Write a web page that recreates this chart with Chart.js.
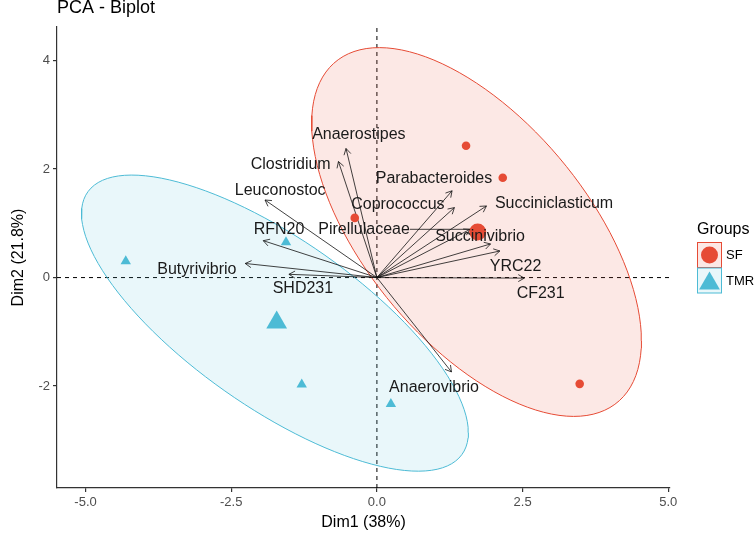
<!DOCTYPE html>
<html>
<head>
<meta charset="utf-8">
<script src="https://cdn.jsdelivr.net/npm/chart.js@4.4.1/dist/chart.umd.min.js"></script>
<style>
html, body { margin: 0; padding: 0; background: #fff; }
#caja { width: 754px; height: 541px; }
</style>
</head>
<body>
<div id="caja"><canvas id="miGrafica" width="754" height="541"></canvas></div>
<script>
// =============================
// DATOS
// =============================
const grupos = ["SF", "TMR"];
const coloresGrupo = ["#E64B35", "#4DBBD5"];
const rellenoGrupo = ["rgba(230,75,53,0.13)", "rgba(77,187,213,0.12)"];

// individuos
const sfX = [1.53, 2.16, -0.38, 3.48];
const sfY = [2.43, 1.84, 1.10, -1.96];
const tmrX = [-4.31, -1.56, -1.29, 0.24];
const tmrY = [0.30, 0.65, -1.97, -2.33];

// centros de grupo
const mediaX = [1.73, -1.72];
const mediaY = [0.84, -0.83];

// elipses: centro, semiancho en x, semialto en y, correlacion
const elipseCx = [1.71, -1.75];
const elipseCy = [0.84, -0.84];
const elipseRx = [2.83, 3.32];
const elipseRy = [3.40, 2.73];
const elipseR = [-0.59, -0.74];

// variables (flechas)
const variables = ["Anaerostipes", "Clostridium", "Leuconostoc", "RFN20", "Pirellulaceae",
    "Butyrivibrio", "SHD231", "Coprococcus", "Parabacteroides", "Succiniclasticum",
    "Succinivibrio", "YRC22", "CF231", "Anaerovibrio"];
const flechaX = [-0.53, -0.66, -1.92, -1.95, 1.60, -2.26, -1.51, 1.33, 1.29, 1.88, 1.95, 2.11, 2.53, 1.28];
const flechaY = [2.38, 2.14, 1.43, 0.68, 0.89, 0.26, 0.06, 1.29, 1.60, 1.32, 0.62, 0.49, -0.01, -1.74];
// posicion de las etiquetas
const etiquetaX = [-0.31, -1.48, -1.66, -1.68, -0.22, -3.09, -1.27, 0.36, 0.98, 3.04, 1.77, 2.38, 2.81, 0.98];
const etiquetaY = [2.63, 2.08, 1.61, 0.89, 0.89, 0.14, -0.21, 1.34, 1.82, 1.37, 0.75, 0.21, -0.29, -2.02];

// ejes
const limitesX = [-5.49, 5.03];
const limitesY = [-3.88, 4.62];
const ticksX = [-5, -2.5, 0, 2.5, 5];
const etiquetasTicksX = ["-5.0", "-2.5", "0.0", "2.5", "5.0"];
const ticksY = [-2, 0, 2, 4];
const etiquetasTicksY = ["-2", "0", "2", "4"];

const FUENTE = "'Liberation Sans', Arial, sans-serif";

function puntosElipse(i) {
    let pts = [];
    let s = Math.sqrt(1 - elipseR[i] * elipseR[i]);
    for (let k = 0; k <= 120; k++) {
        let t = 2 * Math.PI * k / 120;
        pts.push({
            x: elipseCx[i] + elipseRx[i] * Math.cos(t),
            y: elipseCy[i] + elipseRy[i] * (elipseR[i] * Math.cos(t) + s * Math.sin(t))
        });
    }
    return pts;
}

function zip(xs, ys) {
    return xs.map((x, i) => ({ x: x, y: ys[i] }));
}

// =============================
// DATASETS
// =============================
let datasets = [];

// lineas discontinuas en 0
datasets.push({
    data: [{ x: limitesX[0], y: 0 }, { x: limitesX[1], y: 0 }],
    showLine: true, borderColor: "#000", borderWidth: 1, borderDash: [4, 4],
    pointRadius: 0, order: 60
});
datasets.push({
    data: [{ x: 0, y: limitesY[0] }, { x: 0, y: limitesY[1] }],
    showLine: true, borderColor: "#000", borderWidth: 1, borderDash: [4, 4],
    pointRadius: 0, order: 60
});

// elipses
grupos.forEach(function (g, i) {
    datasets.push({
        data: puntosElipse(i),
        showLine: true, fill: "shape",
        borderColor: coloresGrupo[i], borderWidth: 1,
        backgroundColor: rellenoGrupo[i],
        pointRadius: 0, tension: 0, order: 50
    });
});

// flechas
variables.forEach(function (v, i) {
    datasets.push({
        data: [{ x: 0, y: 0 }, { x: flechaX[i], y: flechaY[i] }],
        showLine: true, borderColor: "#111", borderWidth: 0.8,
        pointRadius: 0, order: 40, esFlecha: true
    });
});

// individuos
datasets.push({
    data: zip(sfX, sfY), pointStyle: "circle", pointRadius: 4.3,
    backgroundColor: coloresGrupo[0], borderWidth: 0, pointBorderWidth: 0, order: 30
});
datasets.push({
    data: zip(tmrX, tmrY), pointStyle: "triangle", pointRadius: 6,
    backgroundColor: coloresGrupo[1], borderWidth: 0, pointBorderWidth: 0, order: 30
});

// centros
datasets.push({
    data: [{ x: mediaX[0], y: mediaY[0] }], pointStyle: "circle", pointRadius: 8.5,
    backgroundColor: coloresGrupo[0], borderWidth: 0, pointBorderWidth: 0, order: 20
});
datasets.push({
    data: [{ x: mediaX[1], y: mediaY[1] }], pointStyle: "triangle", pointRadius: 12,
    backgroundColor: coloresGrupo[1], borderWidth: 0, pointBorderWidth: 0, order: 20
});

// =============================
// PLUGIN DE DIBUJO
// =============================
const extras = {
    id: "extras",
    afterDatasetDraw(chart, args) {
        const ds = chart.data.datasets[args.index];
        if (!ds.esFlecha) return;
        const ctx = chart.ctx;
        const p0 = args.meta.data[0], p1 = args.meta.data[1];
        const ang = Math.atan2(p1.y - p0.y, p1.x - p0.x);
        const largo = 7, abre = Math.PI / 6;
        ctx.save();
        ctx.strokeStyle = "#111";
        ctx.lineWidth = 0.8;
        ctx.beginPath();
        ctx.moveTo(p1.x - largo * Math.cos(ang - abre), p1.y - largo * Math.sin(ang - abre));
        ctx.lineTo(p1.x, p1.y);
        ctx.lineTo(p1.x - largo * Math.cos(ang + abre), p1.y - largo * Math.sin(ang + abre));
        ctx.stroke();
        ctx.restore();
    },
    afterDatasetsDraw(chart) {
        const ctx = chart.ctx;
        const sx = chart.scales.x, sy = chart.scales.y;
        ctx.save();
        ctx.font = "16px " + FUENTE;
        ctx.textAlign = "center";
        ctx.textBaseline = "middle";
        variables.forEach(function (v, i) {
            const lx = sx.getPixelForValue(etiquetaX[i]);
            const ly = sy.getPixelForValue(etiquetaY[i]);
            const tx = sx.getPixelForValue(flechaX[i]);
            const ty = sy.getPixelForValue(flechaY[i]);
            const w = ctx.measureText(v).width;
            const izq = lx - w / 2, der = lx + w / 2, arr = ly - 7, aba = ly + 7;
            const nx = Math.min(Math.max(tx, izq), der);
            const ny = Math.min(Math.max(ty, arr), aba);
            if (Math.hypot(tx - nx, ty - ny) > 20) {
                ctx.strokeStyle = "#111";
                ctx.lineWidth = 0.8;
                ctx.beginPath();
                ctx.moveTo(nx, ny);
                ctx.lineTo(tx, ty);
                ctx.stroke();
            }
            ctx.fillStyle = "#1a1a1a";
            ctx.fillText(v, lx, ly);
        });
        ctx.restore();
    },
    afterDraw(chart) {
        const ctx = chart.ctx;
        const area = chart.chartArea;
        ctx.save();
        ctx.fillStyle = "#000";

        // titulo
        ctx.font = "18px " + FUENTE;
        ctx.textAlign = "left";
        ctx.textBaseline = "alphabetic";
        ctx.fillText("PCA - Biplot", area.left, 13);

        // titulos de ejes
        ctx.font = "16px " + FUENTE;
        ctx.textAlign = "center";
        ctx.textBaseline = "middle";
        ctx.fillText("Dim1 (38%)", (area.left + area.right) / 2, 523);
        ctx.save();
        ctx.translate(19, (area.top + area.bottom) / 2);
        ctx.rotate(-Math.PI / 2);
        ctx.fillText("Dim2 (21.8%)", 0, 0);
        ctx.restore();

        // leyenda
        ctx.textAlign = "left";
        ctx.font = "16px " + FUENTE;
        ctx.fillText("Groups", 697, 230);
        const estilos = ["circle", "triangle"];
        const radios = [8.5, 12];
        grupos.forEach(function (g, i) {
            const bx = 697.5, by = 242.5 + i * 25.5;
            ctx.fillStyle = "#fff";
            ctx.fillRect(bx, by, 24, 25);
            ctx.fillStyle = rellenoGrupo[i];
            ctx.fillRect(bx, by, 24, 25);
            ctx.strokeStyle = coloresGrupo[i];
            ctx.lineWidth = 1;
            ctx.strokeRect(bx, by, 24, 25);
            ctx.fillStyle = coloresGrupo[i];
            Chart.helpers.drawPoint(ctx, {
                pointStyle: estilos[i], radius: radios[i], rotation: 0, borderWidth: 0
            }, bx + 12, by + 12.5 + (i === 1 ? 3 : 0));
            ctx.fillStyle = "#000";
            ctx.font = "13px " + FUENTE;
            ctx.fillText(g, 726, by + 13);
        });
        ctx.restore();
    }
};

// =============================
// GRAFICA
// =============================
const ctx = document.getElementById("miGrafica").getContext("2d");

const grafica = new Chart(ctx, {
    type: "scatter",
    data: { datasets: datasets },
    options: {
        responsive: false,
        devicePixelRatio: 1,
        animation: false,
        layout: { padding: { top: 27, right: 84, left: 0, bottom: 0 } },
        plugins: {
            legend: { display: false },
            tooltip: { enabled: false },
            title: { display: false }
        },
        scales: {
            x: {
                type: "linear",
                min: limitesX[0], max: limitesX[1],
                afterBuildTicks: function (scale) {
                    scale.ticks = ticksX.map(v => ({ value: v }));
                },
                afterFit: function (scale) { scale.height = 53; },
                ticks: {
                    color: "#4D4D4D",
                    font: { size: 13, family: FUENTE },
                    padding: 3,
                    maxRotation: 0,
                    callback: function (value) {
                        const k = ticksX.indexOf(value);
                        return k >= 0 ? etiquetasTicksX[k] : "";
                    }
                },
                grid: { drawOnChartArea: false, drawTicks: true, tickLength: 4, color: "#333", lineWidth: 1.2 },
                border: { color: "#333", width: 1.2 }
            },
            y: {
                type: "linear",
                min: limitesY[0], max: limitesY[1],
                afterBuildTicks: function (scale) {
                    scale.ticks = ticksY.map(v => ({ value: v }));
                },
                afterFit: function (scale) { scale.width = 57; },
                ticks: {
                    color: "#4D4D4D",
                    font: { size: 13, family: FUENTE },
                    padding: 3,
                    callback: function (value) {
                        const k = ticksY.indexOf(value);
                        return k >= 0 ? etiquetasTicksY[k] : "";
                    }
                },
                grid: { drawOnChartArea: false, drawTicks: true, tickLength: 4, color: "#333", lineWidth: 1.2 },
                border: { color: "#333", width: 1.2 }
            }
        }
    },
    plugins: [extras]
});
</script>
</body>
</html>
